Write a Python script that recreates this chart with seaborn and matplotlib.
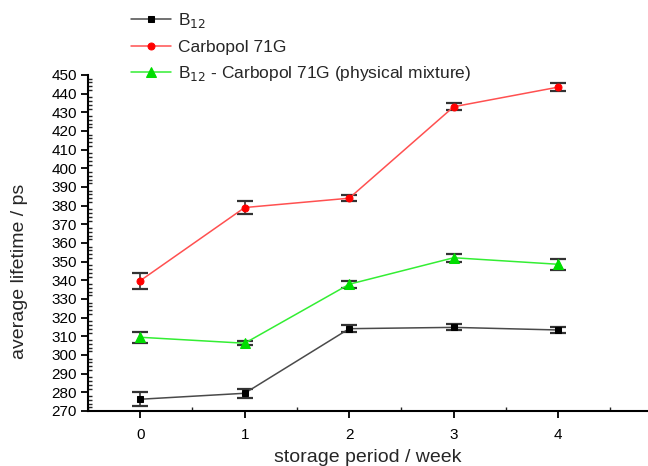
import matplotlib
matplotlib.use("Agg")
import matplotlib.pyplot as plt
import seaborn as sns
import pandas as pd
from matplotlib.ticker import MultipleLocator

weeks = [0, 1, 2, 3, 4]
b12 = [276.3, 279.5, 314.1, 314.8, 313.4]
b12_err = [3.7, 2.5, 1.8, 1.6, 1.5]
carbopol = [339.8, 379.0, 384.0, 433.0, 443.5]
carbopol_err = [4.3, 3.5, 1.5, 2.0, 2.0]
mixture = [309.5, 306.3, 337.9, 352.1, 348.6]
mixture_err = [3.0, 1.0, 2.0, 2.2, 2.9]
labels = ["B$_{12}$", "Carbopol 71G", "B$_{12}$ - Carbopol 71G (physical mixture)"]
xlabel = "storage period / week"
ylabel = "average lifetime / ps"

sns.set_style("ticks")
plt.rcParams['font.family'] = ['Liberation Sans', 'DejaVu Sans']

fig = plt.figure(figsize=(6.48, 4.66), dpi=100)
ax = fig.add_axes([88/648, 1-411/466, 1-88/648, (411-75)/466])

series = [
    (b12, b12_err, "#4a4a4a", "s", 5, "black"),
    (carbopol, carbopol_err, "#ff5050", "o", 5, "red"),
    (mixture, mixture_err, "#33ee33", "^", 7, "#00dd00"),
]
handles = []
for (vals, errs, lc, mk, ms, mc), lab in zip(series, labels):
    df = pd.DataFrame({"week": weeks, "value": vals})
    ax.errorbar(weeks, vals, yerr=errs, fmt="none", ecolor="#333333",
                elinewidth=1.2, capsize=5.5, capthick=1.6, zorder=2)
    sns.lineplot(data=df, x="week", y="value", ax=ax, color=lc, lw=1.1,
                 marker=mk, markersize=ms, markerfacecolor=mc,
                 markeredgecolor=mc, zorder=3)
    handles.append(ax.lines[-1])

ax.set_xlim(-0.5, 4.86)
ax.set_ylim(270, 450)
ax.xaxis.set_major_locator(MultipleLocator(1))
ax.xaxis.set_minor_locator(MultipleLocator(0.5))
ax.yaxis.set_major_locator(MultipleLocator(10))
ax.yaxis.set_minor_locator(MultipleLocator(2))
ax.tick_params(axis="both", which="major", direction="out", length=5, width=1.3,
               labelsize=11, colors="black")
ax.tick_params(axis="x", which="major", pad=7)
ax.tick_params(axis="y", which="major", pad=3)
ax.tick_params(axis="both", which="minor", direction="in", length=3, width=1.0)
for s in ["top", "right"]:
    ax.spines[s].set_visible(False)
for s in ["left", "bottom"]:
    ax.spines[s].set_linewidth(1.5)
    ax.spines[s].set_color("black")

ax.set_xlabel(xlabel, fontsize=14, labelpad=5)
ax.set_ylabel(ylabel, fontsize=14)
ax.yaxis.set_label_coords(-0.107, 0.417)

fig.legend(handles, labels, loc="upper left", bbox_to_anchor=(124/648, 1-4/466),
           frameon=False, fontsize=12.5, handlelength=2.3, handletextpad=0.4,
           labelspacing=0.55, borderaxespad=0)

fig.savefig("out.png", dpi=100)
